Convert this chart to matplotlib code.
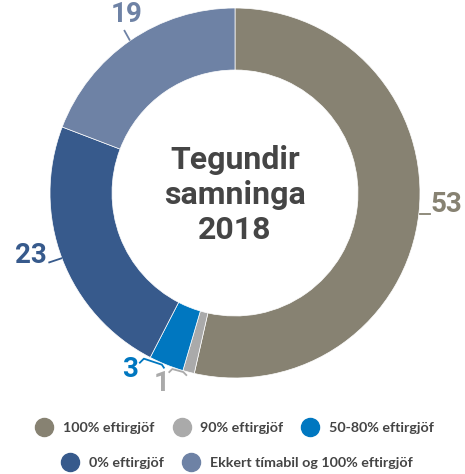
import numpy as np
import matplotlib.pyplot as plt
from matplotlib.lines import Line2D

# data
categories = ['100% eftirgjöf', '90% eftirgjöf', '50-80% eftirgjöf',
              '0% eftirgjöf', 'Ekkert tímabil og 100% eftirgjöf']
values = [53, 1, 3, 23, 19]
colors = ['#878272', '#aaaaaa', '#0077c0', '#375a8c', '#6e82a5']
title = 'Tegundir\nsamninga\n2018'

W, H = 465, 474
fig = plt.figure(figsize=(W / 100, H / 100), dpi=100)
ax = fig.add_axes([0, 0, 1, 1])

cx, cy = 235, H - 193
R = 185
width = 62

wedges, _ = ax.pie(values, colors=colors, startangle=90, counterclock=False,
                   radius=R, center=(cx, cy),
                   wedgeprops=dict(width=width, edgecolor='white', linewidth=0.5))

ax.set_xlim(0, W)
ax.set_ylim(0, H)
ax.set_aspect('equal')
ax.axis('off')

ax.text(cx, cy - 2, title, ha='center', va='center', fontsize=23,
        fontweight='bold', family='Roboto', color='#454545', linespacing=1.22)

# value labels
total = sum(values)
cum = np.cumsum([0] + values)
mids = [90 - (cum[i] + values[i] / 2) / total * 360 for i in range(len(values))]


def edge(ang, r):
    a = np.deg2rad(ang)
    return cx + r * np.cos(a), cy + r * np.sin(a)


lw = 1.3
for i, v in enumerate(values):
    ang = mids[i]
    x0, y0 = edge(ang, R + 1)
    if v == 53:
        ax.plot([x0, x0 + 10], [y0, y0], color=colors[i], lw=lw)
        ax.text(x0 + 11, y0 + 9, str(v), ha='left', va='center', fontsize=20,
                fontweight='bold', family='Roboto', color=colors[i])
    elif v == 23:
        ax.plot([x0, x0 - 12], [y0 + 1, y0 - 3], color=colors[i], lw=lw)
        ax.text(x0 - 14, y0 + 4, str(v), ha='right', va='center', fontsize=20,
                fontweight='bold', family='Roboto', color=colors[i])
    elif v == 19:
        ax.plot([x0, x0 - 5], [y0, y0 + 9], color=colors[i], lw=lw)
        ax.text(x0 - 3, y0 + 25, str(v), ha='center', va='center', fontsize=20,
                fontweight='bold', family='Roboto', color=colors[i])
    elif v == 3:
        xs = [x0 - 2, x0 - 4, x0 - 22, x0 - 26]
        ys = [y0 - 2, y0 + 1, y0 + 7, y0 + 3]
        ax.plot(xs, ys, color=colors[i], lw=lw)
        ax.text(x0 - 28, y0 - 4, str(v), ha='right', va='center', fontsize=20,
                fontweight='bold', family='Roboto', color=colors[i])
    elif v == 1:
        xs = [x0 - 2, x0 - 5, x0 - 16, x0 - 19]
        ys = [y0 - 2, y0 + 1, y0 + 4, y0 + 1]
        ax.plot(xs, ys, color=colors[i], lw=lw)
        ax.text(x0 - 19, y0 - 10, str(v), ha='right', va='center', fontsize=20,
                fontweight='bold', family='Roboto', color=colors[i])

# legend in two rows
handles = [Line2D([], [], marker='o', linestyle='none', markersize=13,
                  markerfacecolor=c, markeredgecolor=c) for c in colors]
leg_kw = dict(frameon=False, handletextpad=0.7, columnspacing=1.3,
              prop=dict(family='Lato', weight='bold', size=10.3),
              labelcolor='#444444', handlelength=1.2)
leg1 = fig.legend(handles[:3], categories[:3], ncol=3, loc='center',
                  bbox_to_anchor=(0.505, 1 - 428 / H), **leg_kw)
leg2 = fig.legend(handles[3:], categories[3:], ncol=2, loc='center',
                  bbox_to_anchor=(0.51, 1 - 463 / H), **leg_kw)

fig.savefig('out.png', dpi=100)
